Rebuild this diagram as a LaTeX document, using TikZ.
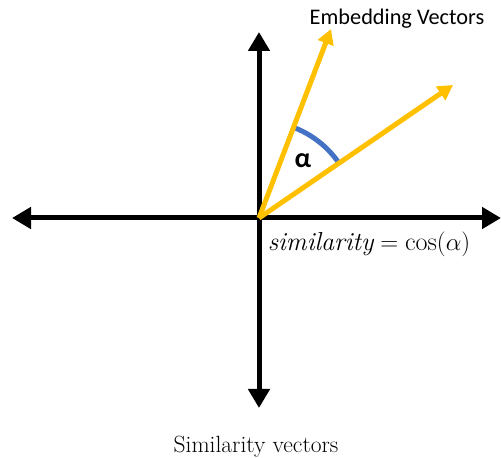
\documentclass[tikz,border=0pt]{standalone}
\usepackage{fontspec}
\usetikzlibrary{arrows.meta,calc}
\newfontfamily\carlito{Carlito}
\definecolor{vecyellow}{HTML}{FFC000}
\definecolor{arcblue}{HTML}{4472C4}
\tikzset{
  axis/.style={line width=5pt, -{Triangle[width=21pt,length=19pt]}},
  vec/.style={draw=vecyellow, line width=5pt, -{Triangle[width=16pt,length=15pt]}, color=vecyellow},
  anglearc/.style={draw=arcblue, line width=5pt},
  lbl/.style={inner sep=0pt}
}
\begin{document}
\begin{tikzpicture}[x=1pt,y=1pt]
\useasboundingbox (0,0) rectangle (501,458);
\coordinate (O) at (259,240);
\coordinate (L) at (12,240);
\coordinate (R) at (501,240);
\coordinate (T) at (259,426);
\coordinate (B) at (259,50);
\coordinate (V1) at (331,429);
\coordinate (V2) at (453,373);
\draw[axis] (O) -- (L);
\draw[axis] (O) -- (R);
\draw[axis] (O) -- (T);
\draw[axis] (O) -- (B);
\draw[anglearc] ($(O)+(69.3:97)$) arc[start angle=69.3, end angle=34.4, radius=97];
\draw[vec] (O) -- (V1);
\draw[vec] (O) -- (V2);
\node[lbl] (emb) at (397,439) {\carlito\fontsize{22.3}{26}\selectfont Embedding Vectors};
\node[lbl] (alpha) at (303,297) {\carlito\bfseries\fontsize{28}{30}\selectfont α};
\node[lbl] (eq) at (369,214) {\fontsize{26}{30}\selectfont $\mathit{similarity} = \cos(\alpha)$};
\node[lbl] (cap) at (256,11) {\fontsize{23.5}{28}\selectfont Similarity vectors};
\end{tikzpicture}
\end{document}
